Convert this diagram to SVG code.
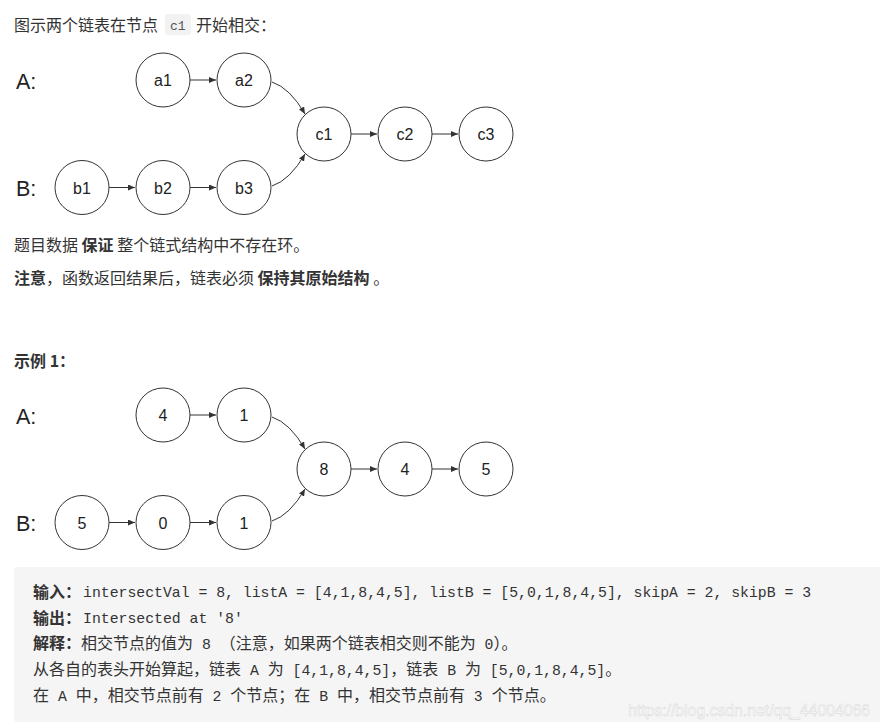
<svg xmlns="http://www.w3.org/2000/svg" width="880" height="728" viewBox="0 0 880 728">
<style>
text{white-space:pre;fill:#333}
.cj{font-family:"Noto Sans CJK SC","Liberation Sans",sans-serif;font-size:16px}
.b{font-weight:bold}
.m{font-family:"Liberation Mono",monospace;font-size:14.8px}
.lbl{font-family:"Liberation Sans",Arial,sans-serif;font-size:21.5px;fill:#222}
.nt{font-family:"Liberation Sans",Arial,sans-serif;font-size:16px;fill:#222;text-anchor:middle}
.node circle{fill:#fff;stroke:#333;stroke-width:1}
.edge{fill:none;stroke:#333;stroke-width:1;marker-end:url(#ah)}
.wm{font-family:"Liberation Sans",Arial,sans-serif;font-size:16px;fill:#fff;stroke:#d6d6d6;stroke-width:0.5}
</style>
<defs>
<marker id="ah" markerUnits="userSpaceOnUse" markerWidth="8" markerHeight="6" refX="7" refY="3" orient="auto">
<path d="M0,0 L7,3 L0,6 z" fill="#333"/>
</marker>
</defs>
<rect width="880" height="728" fill="#fff"/>

<!-- heading -->
<rect x="165" y="14" width="26" height="21" rx="3" fill="#f2f2f2"/>
<text class="cj" x="14" y="30.5">图示两个链表在节点</text>
<text class="m" x="170" y="29.5" style="font-size:13px;fill:#555">c1</text>
<text class="cj" x="196" y="30.5">开始相交：</text>

<!-- Diagram 1 -->
<g id="diagram1">
<text class="lbl" x="16" y="88.5">A:</text>
<text class="lbl" x="16" y="196">B:</text>
<g id="connectors1">
<line class="edge" x1="190" y1="80" x2="216" y2="80"/>
<line class="edge" x1="351" y1="134" x2="377" y2="134"/>
<line class="edge" x1="432" y1="134" x2="458" y2="134"/>
<line class="edge" x1="109" y1="187.5" x2="135" y2="187.5"/>
<line class="edge" x1="190" y1="187.5" x2="216" y2="187.5"/>
<path class="edge" d="M272,82 Q290,88 305,114"/>
<path class="edge" d="M272,186 Q290,180 305,154"/>
</g>
<g id="n-a1" class="node"><circle cx="163" cy="80" r="27"/><text class="nt" x="163" y="86">a1</text></g>
<g id="n-a2" class="node"><circle cx="244" cy="80" r="27"/><text class="nt" x="244" y="86">a2</text></g>
<g id="n-c1" class="node"><circle cx="324" cy="134" r="27"/><text class="nt" x="324" y="140">c1</text></g>
<g id="n-c2" class="node"><circle cx="405" cy="134" r="27"/><text class="nt" x="405" y="140">c2</text></g>
<g id="n-c3" class="node"><circle cx="486" cy="134" r="27"/><text class="nt" x="486" y="140">c3</text></g>
<g id="n-b1" class="node"><circle cx="82" cy="187.5" r="27"/><text class="nt" x="82" y="193.5">b1</text></g>
<g id="n-b2" class="node"><circle cx="163" cy="187.5" r="27"/><text class="nt" x="163" y="193.5">b2</text></g>
<g id="n-b3" class="node"><circle cx="244" cy="187.5" r="27"/><text class="nt" x="244" y="193.5">b3</text></g>
</g>

<!-- paragraphs -->
<text class="cj" x="14" y="251">题目数据 <tspan class="b">保证</tspan> 整个链式结构中不存在环。</text>
<text class="cj" x="14" y="284"><tspan class="b">注意</tspan>，函数返回结果后，链表必须 <tspan class="b">保持其原始结构</tspan> 。</text>
<text class="cj b" x="14" y="367">示例 1：</text>

<!-- Diagram 2 -->
<g id="diagram2" transform="translate(0,335)">
<text class="lbl" x="16" y="88.5">A:</text>
<text class="lbl" x="16" y="196">B:</text>
<g id="connectors2">
<line class="edge" x1="190" y1="80" x2="216" y2="80"/>
<line class="edge" x1="351" y1="134" x2="377" y2="134"/>
<line class="edge" x1="432" y1="134" x2="458" y2="134"/>
<line class="edge" x1="109" y1="187.5" x2="135" y2="187.5"/>
<line class="edge" x1="190" y1="187.5" x2="216" y2="187.5"/>
<path class="edge" d="M272,82 Q290,88 305,114"/>
<path class="edge" d="M272,186 Q290,180 305,154"/>
</g>
<g id="m-a1" class="node"><circle cx="163" cy="80" r="27"/><text class="nt" x="163" y="86">4</text></g>
<g id="m-a2" class="node"><circle cx="244" cy="80" r="27"/><text class="nt" x="244" y="86">1</text></g>
<g id="m-c1" class="node"><circle cx="324" cy="134" r="27"/><text class="nt" x="324" y="140">8</text></g>
<g id="m-c2" class="node"><circle cx="405" cy="134" r="27"/><text class="nt" x="405" y="140">4</text></g>
<g id="m-c3" class="node"><circle cx="486" cy="134" r="27"/><text class="nt" x="486" y="140">5</text></g>
<g id="m-b1" class="node"><circle cx="82" cy="187.5" r="27"/><text class="nt" x="82" y="193.5">5</text></g>
<g id="m-b2" class="node"><circle cx="163" cy="187.5" r="27"/><text class="nt" x="163" y="193.5">0</text></g>
<g id="m-b3" class="node"><circle cx="244" cy="187.5" r="27"/><text class="nt" x="244" y="193.5">1</text></g>
</g>

<!-- example box -->
<rect x="14" y="567" width="870" height="155" rx="3" fill="#f5f5f5"/>
<text class="cj b" x="33" y="598">输入：</text>
<text class="m" x="83" y="597">intersectVal = 8, listA = [4,1,8,4,5], listB = [5,0,1,8,4,5], skipA = 2, skipB = 3</text>
<text class="cj b" x="33" y="624">输出：</text>
<text class="m" x="83" y="623">Intersected at '8'</text>
<text class="cj" x="33" y="649"><tspan class="b">解释：</tspan>相交节点的值为<tspan class="m"> 8 </tspan>（注意，如果两个链表相交则不能为<tspan class="m"> 0</tspan>）。</text>
<text class="cj" x="33" y="675">从各自的表头开始算起，链表<tspan class="m"> A </tspan>为<tspan class="m"> [4,1,8,4,5]</tspan>，链表<tspan class="m"> B </tspan>为<tspan class="m"> [5,0,1,8,4,5]</tspan>。</text>
<text class="cj" x="33" y="701">在<tspan class="m"> A </tspan>中，相交节点前有<tspan class="m"> 2 </tspan>个节点；在<tspan class="m"> B </tspan>中，相交节点前有<tspan class="m"> 3 </tspan>个节点。</text>
<text class="wm" x="628" y="716" textLength="242" lengthAdjust="spacingAndGlyphs">https://blog.csdn.net/qq_44004066</text>
</svg>
